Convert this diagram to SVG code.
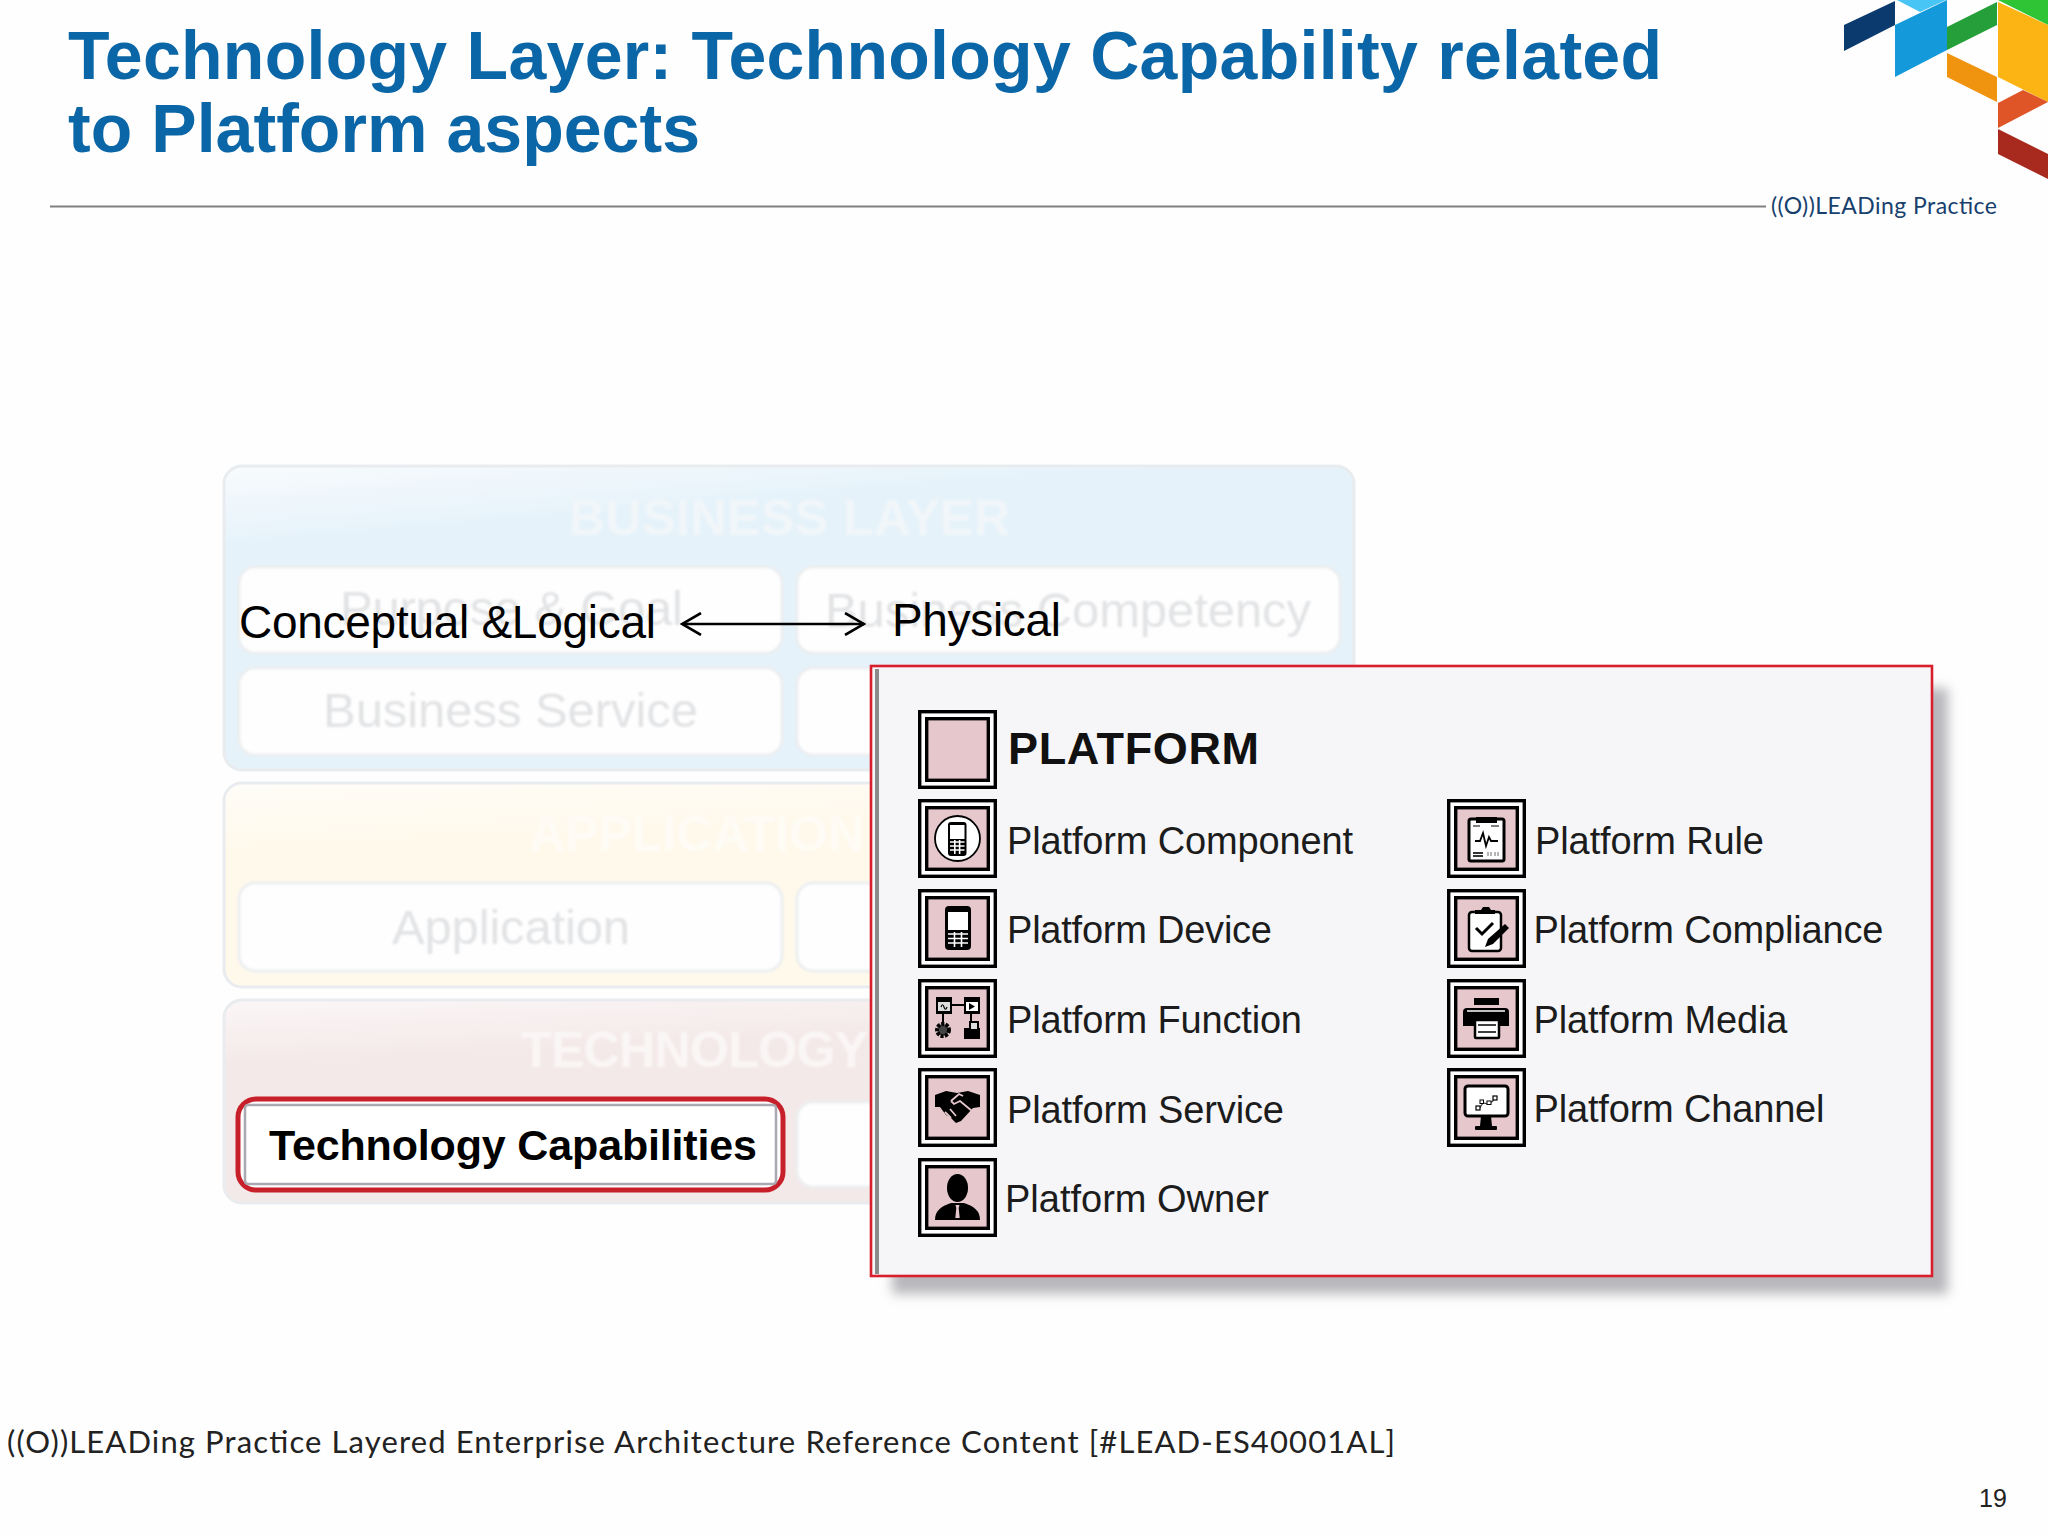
<svg xmlns="http://www.w3.org/2000/svg" width="2048" height="1536" viewBox="0 0 2048 1536">
<style>
text{font-family:"Liberation Sans",Arial,sans-serif}
.title{font-size:68px;font-weight:700;fill:#0a66a6}
.lbl{font-size:38px;fill:#1c1c1c}
.layer{stroke:#e9ecef;stroke-width:3}
.box{fill:#fefefe;stroke:#eceef0;stroke-width:3;filter:url(#soft)}
.ft{font-size:50px;font-weight:700;filter:url(#soft)}
.fb{font-size:49px;fill:#e2e3e5;filter:url(#soft)}
.k{fill:#000}.w{fill:#fff}
.ln{fill:none;stroke:#000;stroke-width:2}
.lw{fill:none;stroke:#fff;stroke-width:1.6}
.logo{font-family:"Lato","Noto Sans",sans-serif}
</style>
<defs>
<linearGradient id="gb" x1="0" y1="0" x2="0.08" y2="0.25"><stop offset="0" stop-color="#f8fbfd"/><stop offset="1" stop-color="#e5f2fa"/></linearGradient>
<linearGradient id="ga" x1="0" y1="0" x2="0.08" y2="0.3"><stop offset="0" stop-color="#fffdf8"/><stop offset="1" stop-color="#fff9ec"/></linearGradient>
<linearGradient id="gt" x1="0" y1="0" x2="0.08" y2="0.3"><stop offset="0" stop-color="#fbf6f6"/><stop offset="1" stop-color="#f4e9e9"/></linearGradient>
<filter id="sh" x="-5%" y="-5%" width="110%" height="110%"><feGaussianBlur stdDeviation="6"/></filter>
<filter id="soft" x="-5%" y="-20%" width="110%" height="140%"><feGaussianBlur stdDeviation="1"/></filter>
<marker id="open" viewBox="0 0 24 24" refX="22" refY="12" markerWidth="24" markerHeight="24" markerUnits="userSpaceOnUse" orient="auto-start-reverse"><path d="M3 1 L22 12 L3 23" fill="none" stroke="#000" stroke-width="2.6"/></marker>
<g id="frame">
<rect x="1.7" y="1.7" width="75.6" height="75.6" fill="#fff" stroke="#000" stroke-width="3.4"/>
<rect x="8.7" y="8.7" width="61.6" height="61.6" fill="#e6c8cc" stroke="#000" stroke-width="3.4"/>
</g>
</defs>
<rect width="2048" height="1536" fill="#fefefe"/>

<g id="logo">
<polygon points="1844,25 1895,1 1895,25 1844,51" fill="#0b3a6e"/>
<polygon points="1897,0 1946,0 1920,12" fill="#48c4f5"/>
<polygon points="1895,25 1947,0 1947,50 1895,77" fill="#1499da"/>
<polygon points="1947,27 1997,2 1997,25 1947,50" fill="#259f3a"/>
<polygon points="1998,0 2048,0 2048,25" fill="#2fc436"/>
<polygon points="1998,2 2048,25 2048,102 1998,77" fill="#fbb413"/>
<polygon points="1947,53 1997,77 1997,102 1947,77" fill="#f0930f"/>
<polygon points="1998,103 2023,90 2048,102 1998,128" fill="#e05527"/>
<polygon points="1998,129 2048,154 2048,179 1998,154" fill="#a82a1e"/>
<text class="logo" x="1771" y="214" font-size="23" fill="#17406d" textLength="226">((O))LEADing Practice</text>
</g>

<g id="header">
<text class="title" x="68" y="79" textLength="1594">Technology Layer: Technology Capability related</text>
<text class="title" x="68" y="152" textLength="632">to Platform aspects</text>
<line x1="50" y1="206.5" x2="1766" y2="206.5" stroke="#808080" stroke-width="2"/>
</g>

<g id="business-layer">
<rect class="layer" x="224" y="466" width="1130" height="304" rx="18" fill="url(#gb)"/>
<text class="ft" x="569" y="535" fill="#f1f6f9" textLength="441">BUSINESS LAYER</text>
<rect class="box" x="239" y="567" width="543" height="86" rx="16"/>
<rect class="box" x="797" y="567" width="543" height="86" rx="16"/>
<rect class="box" x="239" y="668" width="543" height="87" rx="16"/>
<rect class="box" x="797" y="668" width="543" height="87" rx="16"/>
<text class="fb" x="340" y="625" textLength="343">Purpose &amp; Goal</text>
<text class="fb" x="825" y="627" textLength="486">Business Competency</text>
<text class="fb" x="323" y="727" textLength="375">Business Service</text>
</g>
<g id="application-layer">
<rect class="layer" x="224" y="783" width="1130" height="204" rx="18" fill="url(#ga)"/>
<text class="ft" x="529" y="851" fill="#fffcf6" textLength="335">APPLICATION</text>
<rect class="box" x="239" y="883" width="543" height="88" rx="16"/>
<rect class="box" x="797" y="883" width="543" height="88" rx="16"/>
<text class="fb" x="392" y="944" textLength="238">Application</text>
</g>
<g id="technology-layer">
<rect class="layer" x="224" y="1000" width="1130" height="203" rx="18" fill="url(#gt)"/>
<text class="ft" x="521" y="1067" fill="#fbf6f6" textLength="347">TECHNOLOGY</text>
<rect class="box" x="797" y="1102" width="543" height="85" rx="16"/>
</g>
<g id="technology-capabilities">
<rect x="238" y="1099" width="545" height="91" rx="18" fill="#fff" stroke="#c8202a" stroke-width="5"/>
<rect x="245" y="1105" width="531" height="79" rx="3" fill="none" stroke="#a9a9b2" stroke-width="2.500"/>
<text x="269" y="1160" font-size="43" font-weight="700" fill="#000" textLength="488">Technology Capabilities</text>
</g>

<g id="conceptual-logical"><text x="239" y="638" font-size="46" fill="#000" textLength="417">Conceptual &amp;Logical</text></g>
<g id="physical"><text x="892" y="636" font-size="46" fill="#000" textLength="169">Physical</text></g>

<g id="platform-panel">
<rect x="892" y="688" width="1056" height="606" fill="#b8b8bc" filter="url(#sh)"/>
<rect x="871" y="666" width="1061" height="610" fill="#f6f6f8" stroke="#da1f2c" stroke-width="2.600"/>
<rect x="875" y="669" width="4" height="605" fill="#8a8a8a"/>
</g>

<g id="platform-head"><use href="#frame" x="918" y="710"/><text x="1008" y="764" font-size="45" font-weight="700" fill="#111" textLength="251">PLATFORM</text></g>

<g id="platform-component" transform="translate(918 799)"><use href="#frame"/>
<circle cx="39.500" cy="39.500" r="22.500" fill="#fff" stroke="#000" stroke-width="1.800"/>
<rect x="30" y="23" width="18.500" height="34" rx="3" class="k"/><rect x="32" y="26" width="14.500" height="14" class="w"/>
<path d="M32 43h14.500M32 47h14.500M32 51h14.500M36.800 41v14M41.600 41v14" class="lw" stroke-width="1"/>
<text class="lbl" x="89" y="55" textLength="346">Platform Component</text></g>

<g id="platform-device" transform="translate(918 889)"><use href="#frame"/>
<rect x="27" y="17" width="26" height="44" rx="4" class="k"/><rect x="30" y="23" width="20" height="18" class="w"/>
<path d="M30 45h20M30 49.500h20M30 54h20M36.500 43v15M43.500 43v15" class="lw"/>
<text class="lbl" x="89" y="54" textLength="265">Platform Device</text></g>

<g id="platform-function" transform="translate(918 979)"><use href="#frame"/>
<rect x="18" y="18" width="16" height="17" class="k"/><rect x="20" y="23" width="12" height="9" fill="#ddd"/>
<rect x="46" y="18" width="16" height="17" class="k"/><rect x="48" y="23" width="12" height="9" class="w"/><polygon points="51,24 57,27.500 51,31" class="k"/>
<path d="M34 26h12M25 35v9M53 35v8" class="ln"/>
<circle cx="25" cy="51" r="6" fill="#444" stroke="#000" stroke-width="4" stroke-dasharray="3 1.300"/>
<path d="M46 49h5v-7h10v7h1v11h-16Z" class="k"/><rect x="53" y="44" width="6" height="6" fill="#ddd"/>
<path d="M23 28c1-3 2-3 3 0s2 3 3 0" fill="none" stroke="#000" stroke-width="1.200"/>
<text class="lbl" x="89" y="54" textLength="295">Platform Function</text></g>

<g id="platform-service" transform="translate(918 1068)"><use href="#frame"/>
<path d="M17 27 L28 23 L39 25 L50 23 L62 27 L62 39 L55 40 L43 53 L38 55 L33 50 L28 47 L22 39 L17 39Z" class="k"/>
<path d="M33 33 L41 26 L45 28 M33 33 L36 36 L42 33 L54 43M27 44l6 6M32 41l6 7" fill="none" stroke="#e6c8cc" stroke-width="1.800"/>
<text class="lbl" x="89" y="55" textLength="277">Platform Service</text></g>

<g id="platform-owner" transform="translate(918 1158)"><use href="#frame"/>
<ellipse cx="39.500" cy="30" rx="10.500" ry="14" class="k"/>
<path d="M17 62 C17 52 24 48 33 45 L46 45 C55 48 62 52 62 62Z" class="k"/>
<path d="M37.500 47h4l-.8 3 1 10h-4.400l1-10Z" fill="#e6c8cc"/>
<text class="lbl" x="87" y="54" textLength="264">Platform Owner</text></g>

<g id="platform-rule" transform="translate(1447 799)"><use href="#frame"/>
<rect x="22" y="20" width="35" height="42" rx="2" class="w" stroke="#000" stroke-width="3"/>
<rect x="29" y="18" width="21" height="6" class="k"/>
<path d="M26 27h7M44 27h8" fill="none" stroke="#555" stroke-width="1.500"/>
<path d="M28 42h5l3-8 3 13 3-9 2 4h7" fill="none" stroke="#000" stroke-width="1.800"/>
<path d="M26 54h10M26 57h10" fill="none" stroke="#333" stroke-width="1.800"/>
<path d="M41 53v4M44 53v4M48 53v4M51 53v4" fill="none" stroke="#888" stroke-width="1.200"/>
<text class="lbl" x="88" y="55" textLength="229">Platform Rule</text></g>

<g id="platform-compliance" transform="translate(1447 889)"><use href="#frame"/>
<rect x="22" y="23" width="32" height="39" rx="3" class="w" stroke="#000" stroke-width="2.500"/>
<path d="M28 25v-4h6l2-3h6l2 3h4v4Z" class="k"/>
<path d="M29 39l6 6 11-11" fill="none" stroke="#000" stroke-width="3"/>
<path d="M38 58 L41 50 L58 35 L62 39 L46 55Z" class="k"/>
<text class="lbl" x="86.500" y="54" textLength="350">Platform Compliance</text></g>

<g id="platform-media" transform="translate(1447 979)"><use href="#frame"/>
<rect x="27" y="19" width="25" height="7" class="k"/>
<path d="M16 47 V33 q0-4 4-4 H58 q4 0 4 4 V47Z" class="k"/>
<path d="M20 32h38" class="lw"/>
<rect x="28" y="41" width="24" height="18" rx="1" class="w" stroke="#000" stroke-width="2.500"/>
<path d="M31 46h18M31 53h18" fill="none" stroke="#000" stroke-width="1.500"/>
<text class="lbl" x="86.500" y="54" textLength="254">Platform Media</text></g>

<g id="platform-channel" transform="translate(1447 1068)"><use href="#frame"/>
<rect x="18" y="18" width="43" height="30" rx="3" class="w" stroke="#000" stroke-width="3"/>
<path d="M34 48h10l1 10h-12Z" class="k"/><rect x="28" y="58" width="22" height="4" rx="1" class="k"/>
<path d="M32 41 L36 35 L42 36 L47 32" fill="none" stroke="#444" stroke-width="1.200"/>
<rect x="29" y="38" width="4" height="4" fill="#fff" stroke="#000" stroke-width="1.200"/><rect x="33" y="32" width="3.500" height="3.500" fill="#fff" stroke="#000" stroke-width="1"/><rect x="40" y="33" width="4" height="3.500" fill="#fff" stroke="#000" stroke-width="1"/><rect x="46" y="28" width="4" height="4" fill="#fff" stroke="#000" stroke-width="1.200"/>
<text class="lbl" x="86.500" y="54" textLength="291">Platform Channel</text></g>

<g id="connectors">
<line x1="682" y1="624" x2="864" y2="624" stroke="#000" stroke-width="2.600" marker-start="url(#open)" marker-end="url(#open)"/>
</g>

<g id="footer">
<text class="logo" x="7" y="1453" font-size="31" fill="#222" textLength="1388">((O))LEADing Practice Layered Enterprise Architecture Reference Content [#LEAD-ES40001AL]</text>
<text x="1979" y="1507" font-size="25" fill="#222">19</text>
</g>
</svg>
